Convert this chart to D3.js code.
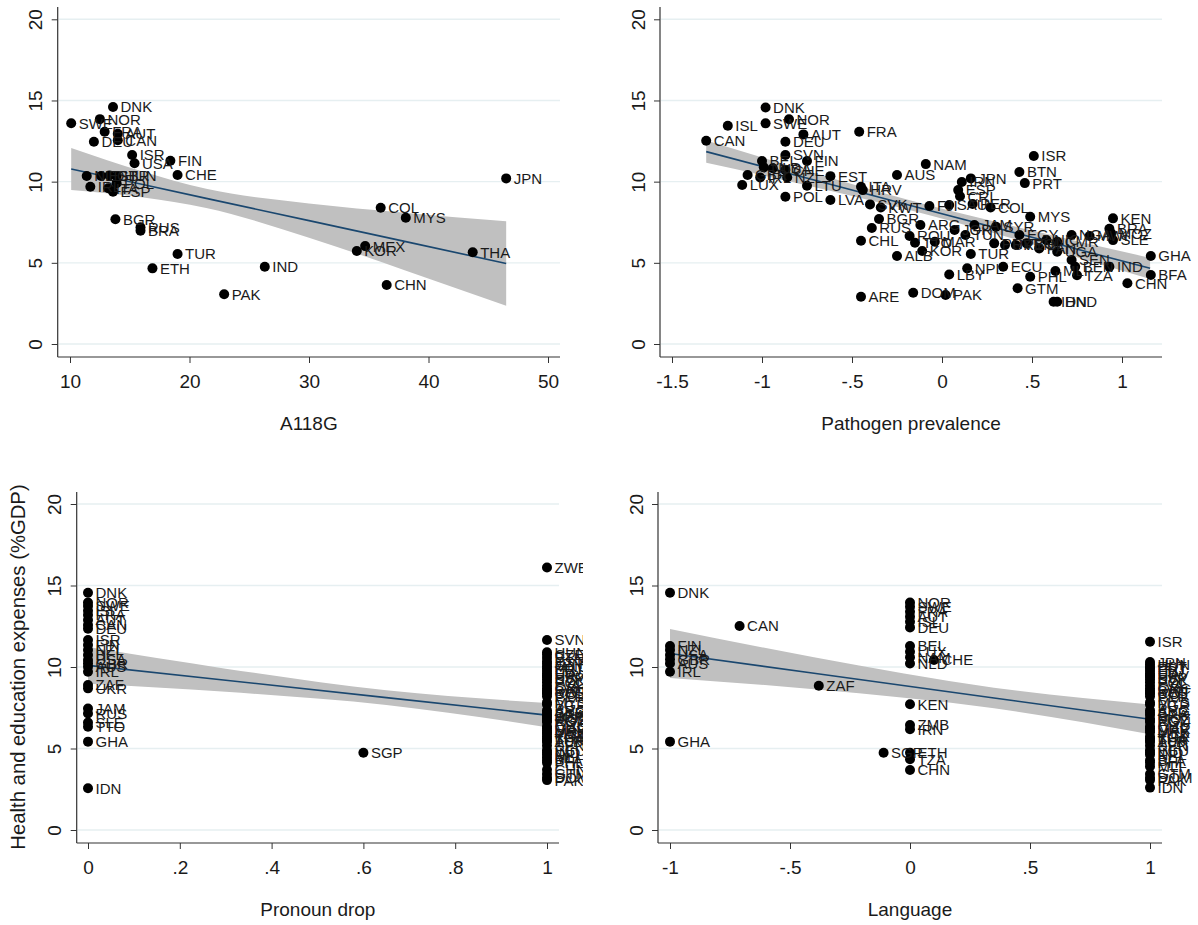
<!DOCTYPE html>
<html lang="en">
<head>
<meta charset="utf-8">
<title>Health and education expenses</title>
<style>
  body { margin: 0; background: #fff; }
  svg { display: block; }
  text { font-family: "Liberation Sans", Arial, sans-serif; fill: #1a1a1a; }
</style>
<script src="https://d3js.org/d3.v7.min.js"></script>
</head>
<body>
<svg id="chart" width="1198" height="925"></svg>
<script>
// shared y axis
const yTicks = [0, 5, 10, 15, 20];
const yTitle = "Health and education expenses (%GDP)";

// panel 1: A118G
const a118Code = ["DNK","SWE","NOR","FRA","AUT","DEU","CAN","ISR","USA","FIN","CHE","NLD","EST","GBR","HUN","IRL","ITA","ESP","POL","BGR","RUS","BRA","TUR","ETH","JPN","COL","MYS","MEX","KOR","THA","IND","CHN","PAK"];
const a118X = [13.6,10.1,12.5,12.9,14.0,12.0,14.0,15.2,15.4,18.4,19.0,11.4,12.6,13.3,13.9,11.7,13.2,13.6,13.9,13.8,15.9,15.9,19.0,16.9,46.5,36.0,38.1,34.7,34.0,43.7,26.3,36.5,22.9];
const a118Y = [14.6,13.6,13.85,13.07,12.95,12.46,12.55,11.64,11.13,11.29,10.41,10.35,10.35,10.38,10.35,9.69,9.59,9.38,9.9,7.68,7.19,6.98,5.54,4.66,10.2,8.39,7.78,6.03,5.73,5.65,4.76,3.63,3.06];
const a118Ticks = [10, 20, 30, 40, 50];
const a118TickLabels = ["10", "20", "30", "40", "50"];
const a118FitX = [10.1, 16, 21.4, 30, 38, 46.5];
const a118Fit = [10.78, 9.84, 8.97, 7.6, 6.32, 4.96];
const a118Lo = [9.49, 9.04, 8.38, 6.55, 4.55, 2.36];
const a118Hi = [12.07, 10.64, 9.56, 8.65, 8.09, 7.56];

// panel 2: pathogen prevalence
const pathCode = ["CAN","ISL","DNK","SWE","NOR","AUT","FRA","DEU","SVN","FIN","BEL","NLD","USA","CHE","GBR","IRL","NZL","LUX","LTU","EST","POL","LVA","ITA","HRV","AUS","NAM","SVK","KWT","BGR","RUS","ARG","CHL","ROU","TTO","KOR","ALB","ARE","DOM","PAK","LBY","FJI","SAU","PER","COL","MYS","KEN","BRA","MOZ","SLE","GHA","BFA","CHN","IND","SEN","BEN","TZA","PHL","MLI","GTM","IDN","HND","ECU","NPL","TUR","MAR","JOR","TUN","JAM","SYR","EGY","PRY","URY","VEN","BOL","PAN","NIC","CMR","UGA","NGA","MWI","ISR","BTN","PRT","IRN","JPN","ESP","CRI"];
const pathX = [-1.31,-1.19,-0.98,-0.98,-0.85,-0.77,-0.46,-0.87,-0.87,-0.75,-1.0,-0.99,-0.94,-0.87,-1.08,-1.01,-0.86,-1.11,-0.75,-0.62,-0.87,-0.62,-0.45,-0.44,-0.25,-0.09,-0.40,-0.34,-0.35,-0.39,-0.12,-0.45,-0.18,-0.15,-0.11,-0.25,-0.45,-0.16,0.02,0.04,-0.07,0.04,0.17,0.27,0.49,0.95,0.93,0.94,0.95,1.16,1.16,1.03,0.93,0.72,0.74,0.75,0.49,0.63,0.42,0.62,0.64,0.34,0.14,0.16,-0.04,0.07,0.13,0.18,0.30,0.43,0.29,0.35,0.41,0.47,0.54,0.58,0.64,0.64,0.72,0.82,0.51,0.43,0.46,0.11,0.16,0.09,0.10];
const pathY = [12.52,13.44,14.57,13.59,13.84,12.91,13.07,12.46,11.64,11.27,11.27,10.88,10.82,10.71,10.41,10.26,10.26,9.79,9.75,10.34,9.07,8.87,9.69,9.48,10.41,11.08,8.6,8.41,7.7,7.15,7.33,6.36,6.65,6.24,5.73,5.42,2.91,3.16,3.02,4.28,8.5,8.56,8.62,8.41,7.84,7.74,7.1,6.82,6.4,5.42,4.25,3.74,4.76,5.17,4.76,4.23,4.14,4.5,3.43,2.6,2.6,4.76,4.66,5.54,6.3,7.02,6.71,7.33,7.22,6.71,6.2,6.1,6.1,6.2,5.89,6.4,6.3,5.68,6.71,6.65,11.58,10.59,9.91,9.98,10.2,9.48,9.1];
const pathTicks = [-1.5, -1, -0.5, 0, 0.5, 1];
const pathTickLabels = ["-1.5", "-1", "-.5", "0", ".5", "1"];
const pathFitX = [-1.31, -0.7, -0.08, 0.5, 1.156];
const pathFit = [11.85, 10.07, 8.26, 6.57, 4.66];
const pathLo = [11.16, 9.64, 7.96, 6.15, 4.01];
const pathHi = [12.54, 10.5, 8.56, 6.99, 5.31];

// panel 3: pronoun drop
const dropCode = ["DNK","NOR","SWE","ISL","FRA","AUT","CAN","DEU","ISR","FIN","NZL","BEL","USA","GBR","AUS","IRL","ZAF","UKR","JAM","RUS","SLE","TTO","GHA","IDN","SGP","ZWE","SVN","HUN","CZE","BTN","EST","JPN","MNG","PRT","LTU","ITA","HRV","ESP","SVK","POL","LVA","GRC","SAU","KWT","COL","PER","MYS","BGR","ARG","SYR","BRA","JOR","MOZ","EGY","ROU","CHL","MAR","URY","MEX","PAN","KOR","THA","TUR","ALB","SEN","ECU","IND","NPL","MLI","BFA","PHL","CHN","GTM","DOM","PAK"];
const dropX = [0,0,0,0,0,0,0,0,0,0,0,0,0,0,0,0,0,0,0,0,0,0,0,0,0.6,1,1,1,1,1,1,1,1,1,1,1,1,1,1,1,1,1,1,1,1,1,1,1,1,1,1,1,1,1,1,1,1,1,1,1,1,1,1,1,1,1,1,1,1,1,1,1,1,1,1];
const dropY = [14.56,13.95,13.74,13.45,13.19,12.88,12.58,12.35,11.66,11.35,11.04,10.74,10.43,10.23,10.02,9.71,8.9,8.69,7.45,7.15,6.6,6.34,5.42,2.56,4.74,16.1,11.66,10.9,10.75,10.55,10.34,10.2,10.05,9.91,9.75,9.6,9.48,9.38,9.25,9.07,8.87,8.7,8.56,8.45,8.38,8.2,7.84,7.7,7.35,7.2,7.05,6.95,6.82,6.71,6.62,6.36,6.25,6.1,6.0,5.89,5.73,5.62,5.5,5.4,5.17,4.9,4.76,4.62,4.45,4.28,4.12,3.7,3.43,3.2,3.06];
const dropTicks = [0, 0.2, 0.4, 0.6, 0.8, 1];
const dropTickLabels = ["0", ".2", ".4", ".6", ".8", "1"];
const dropFitX = [0, 0.3, 0.65, 1];
const dropFit = [10.1, 9.19, 8.12, 7.05];
const dropLo = [8.98, 8.48, 7.67, 6.31];
const dropHi = [11.22, 9.9, 8.57, 7.79];

// panel 4: language
const langCode = ["DNK","FIN","NZL","USA","GBR","AUS","IRL","GHA","CAN","ZAF","SGP","NOR","SWE","FRA","AUT","ISL","DEU","BEL","LUX","NAM","NLD","CHE","KEN","ZMB","IRN","ETH","TZA","CHN","ISR","JPN","HUN","EST","PRT","LTU","ITA","HRV","ESP","SVK","POL","LVA","GRC","SAU","KWT","COL","PER","MYS","BGR","ARG","SYR","BRA","MOZ","EGY","ROU","CHL","MAR","URY","MEX","KOR","THA","TUR","ALB","SEN","ECU","IND","NPL","BFA","PHL","MLI","GTM","DOM","PAK","IDN"];
const langX = [-1,-1,-1,-1,-1,-1,-1,-1,-0.71,-0.38,-0.11,0,0,0,0,0,0,0,0,0,0,0.1,0,0,0,0,0,0,1,1,1,1,1,1,1,1,1,1,1,1,1,1,1,1,1,1,1,1,1,1,1,1,1,1,1,1,1,1,1,1,1,1,1,1,1,1,1,1,1,1,1,1];
const langY = [14.56,11.29,11.04,10.74,10.47,10.22,9.71,5.42,12.52,8.85,4.74,13.95,13.7,13.39,13.09,12.78,12.43,11.29,10.94,10.6,10.22,10.43,7.71,6.44,6.18,4.74,4.34,3.68,11.55,10.3,10.15,10.0,9.9,9.75,9.6,9.48,9.38,9.25,9.07,8.87,8.7,8.56,8.45,8.38,8.2,7.84,7.7,7.35,7.2,7.05,6.82,6.71,6.62,6.36,6.25,6.1,6.0,5.73,5.62,5.5,5.4,5.17,4.9,4.76,4.62,4.28,4.12,3.9,3.43,3.2,3.06,2.6];
const langTicks = [-1, -0.5, 0, 0.5, 1];
const langTickLabels = ["-1", "-.5", "0", ".5", "1"];
const langFitX = [-1, -0.4, 0.35, 1];
const langFit = [10.83, 9.62, 8.1, 6.79];
const langLo = [9.33, 8.64, 7.47, 5.88];
const langHi = [12.33, 10.6, 8.73, 7.7];

const svg = d3.select("#chart");

const panels = [
  { id: "p1", title: "A118G", code: a118Code, xs: a118X, ys: a118Y, ticks: a118Ticks, tickLabels: a118TickLabels,
    fitX: a118FitX, fit: a118Fit, lo: a118Lo, hi: a118Hi,
    left: 57.7, right: 560, top: 7, bottom: 357, xRange: [70, 548], yRange: [344, 19.3], clipRight: 583 },
  { id: "p2", title: "Pathogen prevalence", code: pathCode, xs: pathX, ys: pathY, ticks: pathTicks, tickLabels: pathTickLabels,
    fitX: pathFitX, fit: pathFit, lo: pathLo, hi: pathHi,
    left: 660, right: 1162, top: 7, bottom: 357, xRange: [672, 1122], yRange: [344, 19.3], clipRight: 1192 },
  { id: "p3", title: "Pronoun drop", code: dropCode, xs: dropX, ys: dropY, ticks: dropTicks, tickLabels: dropTickLabels,
    fitX: dropFitX, fit: dropFit, lo: dropLo, hi: dropHi,
    left: 76.7, right: 559, top: 492, bottom: 843, xRange: [88, 547], yRange: [830, 504], clipRight: 583 },
  { id: "p4", title: "Language", code: langCode, xs: langX, ys: langY, ticks: langTicks, tickLabels: langTickLabels,
    fitX: langFitX, fit: langFit, lo: langLo, hi: langHi,
    left: 658, right: 1162, top: 492, bottom: 843, xRange: [670, 1150], yRange: [830, 504], clipRight: 1192 }
];

function drawPanel(p) {
  const g = svg.append("g").attr("id", p.id);
  const x = d3.scaleLinear().domain([p.ticks[0], p.ticks[p.ticks.length - 1]]).range(p.xRange);
  const y = d3.scaleLinear().domain([0, 20]).range(p.yRange);

  // grid lines
  g.append("g").selectAll("line").data(yTicks).join("line")
    .attr("x1", p.left + 1).attr("x2", p.right)
    .attr("y1", d => y(d)).attr("y2", d => y(d))
    .attr("stroke", "#e6eff1").attr("stroke-width", 1.4);

  // confidence band + fitted line
  const fitData = p.fitX.map((v, i) => ({ x: v, f: p.fit[i], lo: p.lo[i], hi: p.hi[i] }));
  const area = d3.area().x(d => x(d.x)).y0(d => y(d.lo)).y1(d => y(d.hi)).curve(d3.curveMonotoneX);
  g.append("path").datum(fitData).attr("d", area).attr("fill", "#c0c0c0");
  const line = d3.line().x(d => x(d.x)).y(d => y(d.f));
  g.append("path").datum(fitData).attr("d", line)
    .attr("fill", "none").attr("stroke", "#1a476f").attr("stroke-width", 1.6);

  // points
  const pts = p.code.map((c, i) => ({ c: c, x: p.xs[i], y: p.ys[i] }));
  g.append("g").selectAll("circle").data(pts).join("circle")
    .attr("cx", d => x(d.x)).attr("cy", d => y(d.y)).attr("r", 5)
    .attr("fill", "#000");

  // labels, clipped at the edge of the cell
  g.append("clipPath").attr("id", "clip-" + p.id)
    .append("rect").attr("x", 0).attr("y", p.top - 20)
    .attr("width", p.clipRight).attr("height", p.bottom - p.top + 40);
  g.append("g").attr("clip-path", `url(#clip-${p.id})`)
    .selectAll("text").data(pts).join("text")
    .attr("x", d => x(d.x) + 7.5).attr("y", d => y(d.y))
    .attr("dy", "0.36em").attr("font-size", 15)
    .text(d => d.c);

  // y axis
  const yAxis = d3.axisLeft(y).tickValues(yTicks).tickSize(6).tickFormat(d3.format("d"));
  const ya = g.append("g").attr("transform", `translate(${p.left},0)`).call(yAxis);
  ya.select(".domain").remove();
  ya.selectAll(".tick line").attr("stroke", "#333");
  ya.selectAll(".tick text")
    .attr("x", null).attr("dy", null)
    .attr("transform", "translate(-22,0) rotate(-90)")
    .attr("dy", "0.35em").attr("text-anchor", "middle")
    .attr("font-size", 19).attr("fill", "#1a1a1a");
  g.append("line").attr("x1", p.left).attr("x2", p.left)
    .attr("y1", p.top).attr("y2", p.bottom).attr("stroke", "#333").attr("stroke-width", 1.2);

  // x axis
  const xAxis = d3.axisBottom(x).tickValues(p.ticks).tickSize(6)
    .tickFormat((d, i) => p.tickLabels[i]);
  const xa = g.append("g").attr("transform", `translate(0,${p.bottom})`).call(xAxis);
  xa.select(".domain").remove();
  xa.selectAll(".tick line").attr("stroke", "#333");
  xa.selectAll(".tick text").attr("y", 24).attr("dy", "0.35em")
    .attr("font-size", 19).attr("fill", "#1a1a1a");
  g.append("line").attr("x1", p.left).attr("x2", p.right)
    .attr("y1", p.bottom).attr("y2", p.bottom).attr("stroke", "#333").attr("stroke-width", 1.2);

  g.append("text").attr("x", (p.left + p.right) / 2).attr("y", p.bottom + 66)
    .attr("dy", "0.35em").attr("text-anchor", "middle").attr("font-size", 19)
    .text(p.title);
}

panels.forEach(drawPanel);

svg.append("text")
  .attr("transform", "translate(18,667) rotate(-90)")
  .attr("dy", "0.35em").attr("text-anchor", "middle").attr("font-size", 20.3)
  .text(yTitle);
</script>
</body>
</html>
